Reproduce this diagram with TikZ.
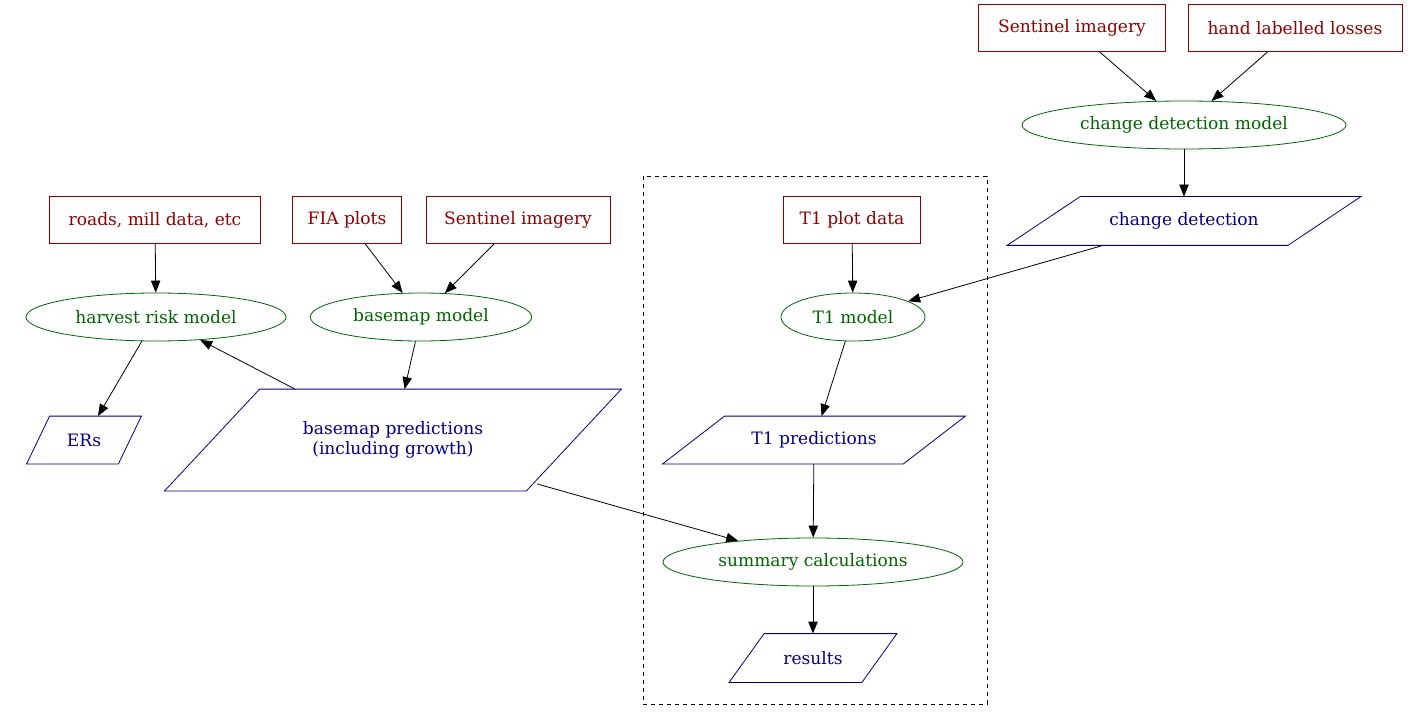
\documentclass[tikz,border=0pt]{standalone}
\usepackage{fontspec}
\setmainfont{DejaVu Serif}
\usetikzlibrary{arrows.meta,shapes.geometric,calc}
\definecolor{dred}{HTML}{8B0000}
\definecolor{dgreen}{HTML}{006400}
\definecolor{dblue}{HTML}{000080}
\tikzset{data node/.style={rectangle,draw=dred,text=dred,minimum height=35.25pt,inner xsep=1pt}, }
\tikzset{model node/.style={ellipse,draw=dgreen,text=dgreen,minimum height=36pt,inner sep=1pt}, }
\tikzset{output node/.style={rectangle,text=dblue,inner sep=1pt,align=center,
    append after command={
      \pgfextra{
        \draw[dblue,line width=0.6pt]
        ($(\tikzlastnode.south west)+(-#1/2,0)$)--
        ($(\tikzlastnode.north west)+(#1/2,0)$)--
        ($(\tikzlastnode.north east)+(#1/2,0)$)--
        ($(\tikzlastnode.south east)+(-#1/2,0)$)--cycle;
      }
    }}, }
\tikzset{linea/.style={-{Triangle[length=9pt,width=7pt]},draw}}
\begin{document}
\begin{tikzpicture}[x=0.75pt,y=-0.75pt,line width=0.6pt,font=\fontsize{12.8}{15}\selectfont]
  \useasboundingbox (0,0) rectangle (1409,720);
  \draw[dashed] (643,176) rectangle (987,704);
  % sources
  \node[data node,minimum width=140pt] (sen1) at (1072,28) {Sentinel imagery};
  \node[data node,minimum width=160.5pt] (hand) at (1295,28) {hand labelled losses};
  \node[data node,minimum width=158pt] (road) at (155,220) {roads, mill data, etc};
  \node[data node,minimum width=81.75pt] (fia) at (347,220) {FIA plots};
  \node[data node,minimum width=138pt] (sen2) at (518,220) {Sentinel imagery};
  \node[data node,minimum width=102.75pt] (t1d) at (852,220) {T1 plot data};
  % models
  \node[model node,minimum width=243pt] (cdm) at (1184,125) {change detection model};
  \node[model node,minimum width=195pt] (hrm) at (156,317) {harvest risk model};
  \node[model node,minimum width=166pt] (bmm) at (421,317) {basemap model};
  \node[model node,minimum width=108pt] (t1m) at (853,317) {T1 model};
  \node[model node,minimum width=225pt] (sum) at (813,562) {summary calculations};
  % outputs
  \node[output node=73,minimum width=210pt,minimum height=36pt] (cd) at (1184,221) {change detection};
  \node[output node=23,minimum width=68.25pt,minimum height=35.25pt] (ers) at (84,440) {ERs};
  \node[output node=95,minimum width=270.75pt,minimum height=75.75pt] (bmp) at (393,440) {basemap predictions\\(including growth)};
  \node[output node=62,minimum width=180pt,minimum height=35.25pt] (t1p) at (814,440) {T1 predictions};
  \node[output node=35,minimum width=99pt,minimum height=36pt] (res) at (813,658) {results};
  % edges
\foreach \x /\y in{sen1/cdm,hand/cdm,cdm/cd,road/hrm,fia/bmm,sen2/bmm,t1d/t1m,hrm/ers,bmm/bmp,t1m/t1p,t1p/sum,sum/res}
  \path[linea] (\x) -- (\y);
  \path[linea] ($(cd.south)+(-81,0)$) -- (t1m);
  \path[linea] ($(bmp.north)+(-98,0)$) -- (hrm);
  \path[linea] ($(bmp.south)+(144,-7)$) -- (sum);
\end{tikzpicture}
\end{document}
